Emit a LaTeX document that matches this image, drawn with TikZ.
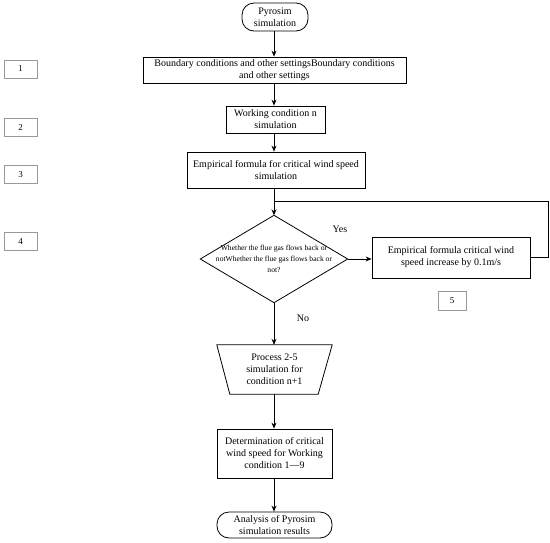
\documentclass[tikz,border=0pt]{standalone}
\usepackage{fontspec}
\setmainfont{Liberation Serif}
\usetikzlibrary{arrows.meta,calc}
\begin{document}
\begin{tikzpicture}[x=1pt,y=-1pt,
  proc/.style={draw=black,line width=0.8pt,rectangle,inner sep=1pt,align=center,font=\fontsize{10}{12}\selectfont},
  term/.style={proc,rounded corners=12pt},
  lbl/.style={draw=gray!80,line width=0.6pt,rectangle,minimum width=33pt,minimum height=18pt,inner sep=0pt,font=\fontsize{9}{11}\selectfont},
  ghost/.style={rectangle,inner sep=0pt,align=center},
  arr/.style={line width=0.8pt,-{Stealth[length=6pt,width=5pt]}},
  ln/.style={line width=0.8pt},
  txt/.style={font=\fontsize{10}{12}\selectfont}]
\useasboundingbox (0,0) rectangle (550,542);
\node[term,minimum width=66pt,minimum height=28pt] (start) at (275,17) {Pyrosim\\simulation};
\node[proc,minimum width=263pt,minimum height=26pt] (b1) at (274.5,70) {Boundary conditions and other settingsBoundary conditions\\and other settings};
\node[proc,minimum width=99pt,minimum height=27pt] (b2) at (275.5,119.5) {Working condition n\\simulation};
\node[proc,minimum width=178pt,minimum height=36pt] (b3) at (276,170) {Empirical formula for critical wind speed\\simulation};
\node[ghost,minimum width=147pt,minimum height=87pt,font=\fontsize{7.6}{11}\selectfont] (dia) at (274,259) {Whether the flue gas flows back or\\notWhether the flue gas flows back or\\not?};
\draw[ln] (dia.north) -- (dia.east) -- (dia.south) -- (dia.west) -- cycle;
\node[proc,minimum width=158pt,minimum height=41pt] (b5) at (451,257.5) {Empirical formula critical wind\\speed increase by 0.1m/s};
\node[ghost,minimum width=115pt,minimum height=49pt,font=\fontsize{10}{12}\selectfont] (trap) at (274.5,369.5) {Process 2-5\\simulation for\\condition n+1};
\draw[ln] (trap.north west) -- (trap.north east) -- ($(trap.south east)+(-14,0)$) -- ($(trap.south west)+(13,0)$) -- cycle;
\node[proc,minimum width=115pt,minimum height=49pt] (b6) at (274.5,453.5) {Determination of critical\\wind speed for Working\\condition 1—9};
\node[term,minimum width=115pt,minimum height=26pt] (end) at (274.5,525) {Analysis of Pyrosim\\simulation results};
\node[lbl] (l1) at (20.5,69) {1};
\node[lbl] (l2) at (20.5,127.5) {2};
\node[lbl] (l3) at (20.5,174.5) {3};
\node[lbl] (l4) at (20.5,241.5) {4};
\node[lbl,minimum width=28pt,minimum height=19pt] (l5) at (452,300.5) {5};
\node[txt] (yes) at (340,229) {Yes};
\node[txt] (no) at (303,318) {No};
\coordinate (j) at (274,201);
\coordinate (c1) at (548,201);
\coordinate (c2) at (548,257.5);
\draw[arr] (start.south -| dia.south) -- (b1.north -| dia.south);
\draw[arr] (b1.south -| dia.south) -- (b2.north -| dia.south);
\draw[arr] (b2.south -| dia.south) -- (b3.north -| dia.south);
\draw[arr] (b3.south -| dia.south) -- (dia.north);
\draw[arr] (dia.east) -- (b5.west |- dia.east);
\draw[ln] (b5.east) -- (c2) -- (c1) -- (j);
\draw[arr] (dia.south) -- (trap.north -| dia.south);
\draw[arr] (trap.south -| dia.south) -- (b6.north -| dia.south);
\draw[arr] (b6.south -| dia.south) -- (end.north -| dia.south);
\end{tikzpicture}
\end{document}
